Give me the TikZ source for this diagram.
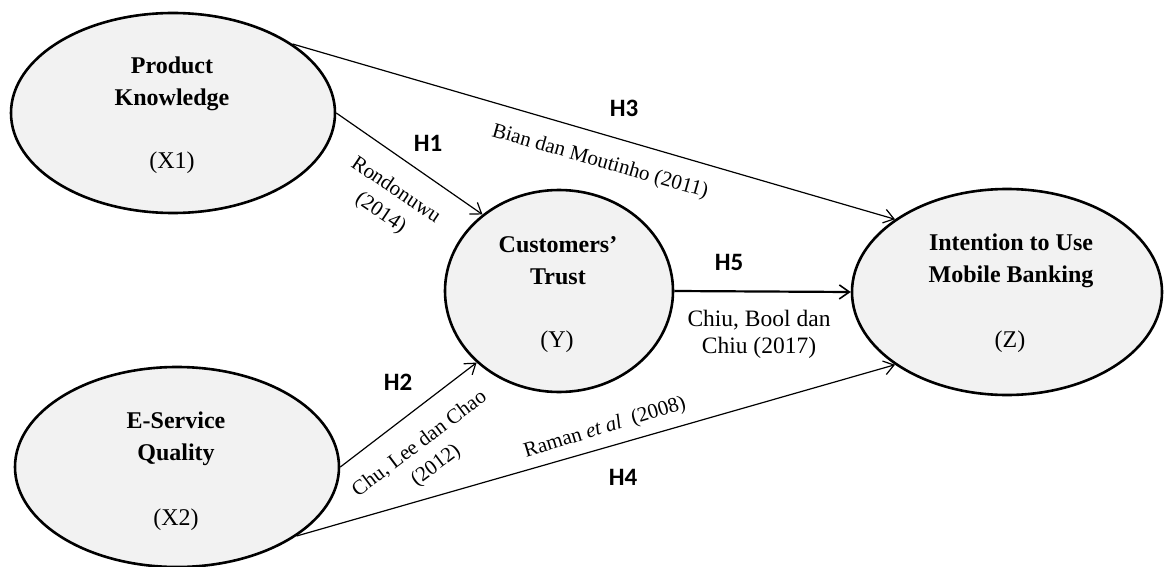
\documentclass[tikz,border=0pt]{standalone}
\usepackage{fontspec}
\setmainfont{Liberation Serif}
\newfontfamily\hfont{Carlito}
\usetikzlibrary{shapes.geometric,arrows.meta}
\definecolor{boxgray}{HTML}{F2F2F2}
\tikzset{
  construct/.style={ellipse, draw=black, line width=2.6pt, fill=boxgray, inner sep=0pt},
  title/.style={font=\bfseries\fontsize{24}{32}\selectfont, align=center},
  varlabel/.style={font=\fontsize{24}{28}\selectfont},
  citelabel/.style={font=\fontsize{21}{27}\selectfont, align=center, inner sep=0pt},
  hyp/.style={font=\hfont\bfseries\fontsize{25}{28}\selectfont, inner sep=0pt},
  link/.style={line width=1.2pt, -{Straight Barb[length=10pt,width=14pt,line width=1.2pt]}},
  thicklink/.style={line width=2.2pt, -{Straight Barb[length=10pt,width=14pt,line width=1.6pt]}},
}
\begin{document}
\begin{tikzpicture}[x=1pt,y=-1pt]
\useasboundingbox (0,0) rectangle (1169,567);
% constructs
\node[construct, minimum width=324pt, minimum height=200pt] (pk) at (173,113) {};
\node[construct, minimum width=324pt, minimum height=200pt] (esq) at (177,467) {};
\node[construct, minimum width=228pt, minimum height=202pt] (y) at (559,291) {};
\node[construct, minimum width=310pt, minimum height=206pt] (z) at (1007,292) {};
% texts in constructs
\node[title] (pkt) at (172,84) {Product\\Knowledge};
\node[varlabel] (pkv) at (172,163) {(X1)};
\node[title] (esqt) at (176,439) {E-Service\\Quality};
\node[varlabel] (esqv) at (176,520) {(X2)};
\node[title] (yt) at (558,261) {Customers’\\Trust};
\node[varlabel] (yv) at (557,342) {(Y)};
\node[title] (zt) at (1011,261) {Intention to Use\\Mobile Banking};
\node[varlabel] (zv) at (1010,342) {(Z)};
% connectors
\draw[link] (pk.east) -- (y.135);
\draw[link] (pk.30) -- (z.147);
\draw[thicklink] (y.east) -- (z.west);
\draw[link] (esq.east) -- (y.221);
\draw[link] (esq.-30) -- (z.213);
% hypothesis labels
\node[hyp] (h1) at (428,143) {H1};
\node[hyp] (h2) at (398,382) {H2};
\node[hyp] (h3) at (624,108) {H3};
\node[hyp] (h4) at (623,477) {H4};
\node[hyp] (h5) at (729,262) {H5};
% citations
\node[citelabel, rotate=-34] (c1) at (388,202) {Rondonuwu\\(2014)};
\node[citelabel, rotate=-16] (c3) at (600,162) {Bian dan Moutinho (2011)};
\node[citelabel, rotate=37] (c2) at (428,455) {Chu, Lee dan Chao\\(2012)};
\node[citelabel, rotate=17] (c4) at (605,428) {Raman \textit{et al}\ \ (2008)};
\node[citelabel, font=\fontsize{23.5}{27}\selectfont] (c5) at (759,334) {Chiu, Bool dan\\Chiu (2017)};
\end{tikzpicture}
\end{document}
